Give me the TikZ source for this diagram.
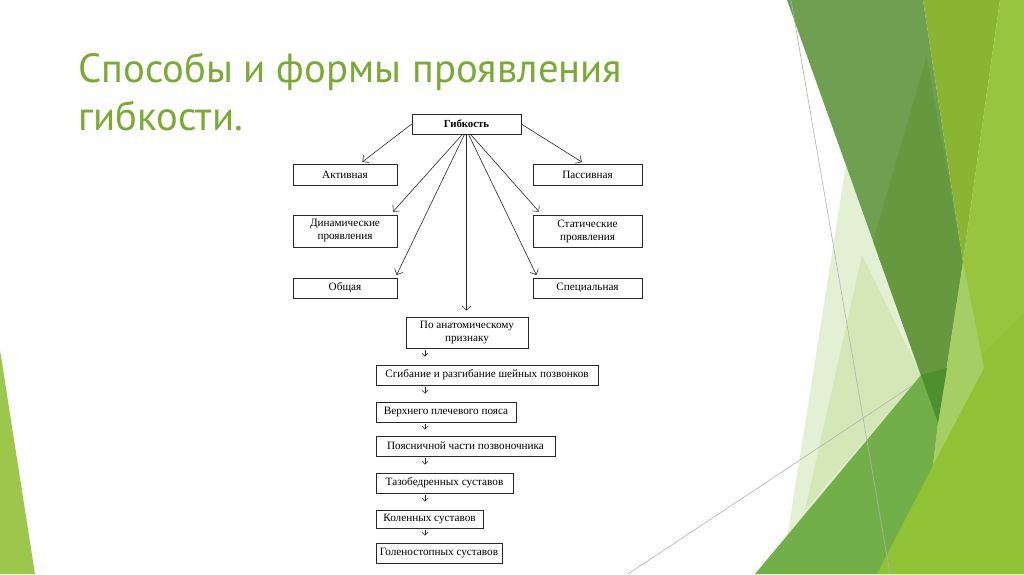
\documentclass[tikz,border=0pt]{standalone}
\usepackage{fontspec}
\setmainfont{Liberation Serif}
\newfontfamily\titlefont{PT Sans}
\usetikzlibrary{arrows.meta,calc}
\definecolor{titlegreen}{RGB}{122,170,50}
\definecolor{paleA}{RGB}{228,240,212}
\definecolor{paleB}{RGB}{212,231,182}
\definecolor{muted}{RGB}{111,159,80}
\definecolor{darker}{RGB}{102,152,63}
\definecolor{olive}{RGB}{137,181,51}
\definecolor{bright}{RGB}{152,197,64}
\definecolor{yellowg}{RGB}{145,193,52}
\definecolor{sliver}{RGB}{165,207,100}
\definecolor{medium}{RGB}{114,175,72}
\definecolor{spike}{RGB}{79,143,45}
\definecolor{leftg}{RGB}{156,198,76}
\definecolor{lineg}{RGB}{40,40,40}
\begin{document}
\begin{tikzpicture}[x=1pt,y=-1pt,
  box/.style={draw=lineg, line width=0.6pt, inner sep=1pt, align=center,
    font=\fontsize{11.2}{13}\selectfont, text=black},
  arr/.style={draw=lineg, line width=0.6pt, -{Straight Barb[length=4.5pt,width=9pt]}},
  chainarr/.style={draw=lineg, line width=0.6pt, shorten <=1.5pt, shorten >=8pt,
    -{Straight Barb[length=3pt,width=6pt]}},
  thinline/.style={draw=black!30, line width=0.6pt}]
\useasboundingbox (0,0) rectangle (1024,574);
\fill[white] (0,0) rectangle (1024,574);
% background facets
\fill[paleA] (846,165) -- (921,375) -- (787.5,535) -- cycle;
\fill[paleB] (862,255) -- (921,375) -- (805,510) -- cycle;
\fill[muted] (787,0) -- (923,0) -- (963,262) -- (938,423) -- cycle;
\fill[darker] (926.7,56.7) -- (963,262) -- (938,423) -- (873,241) -- cycle;
\fill[olive] (923,0) -- (1000,0) -- (963,262) -- cycle;
\fill[bright] (1000,0) -- (1024,0) -- (1024,574) -- (877,574) -- (935,460) -- (963,262) -- cycle;
\fill[yellowg] (1024,313) -- (1024,574) -- (877,574) -- (935,460) -- (947,390) -- cycle;
\fill[sliver] (963,262) -- (984,368) -- (933,465) -- (938,423) -- cycle;
\fill[medium] (755,574) -- (921,375) -- (938,423) -- (933,465) -- (877,574) -- cycle;
\fill[spike] (921,375) -- (947,368) -- (938,423) -- cycle;
\fill[leftg] (0,350) -- (35,574) -- (0,574) -- cycle;
\draw[thinline] (791,0) -- (890,574);
\draw[thinline] (628,574) -- (913,385);
% title
\node[anchor=base west, inner sep=0, text=titlegreen, font=\titlefont\fontsize{40.7}{48}\selectfont] (t1) at (78,82) {Способы и формы проявления};
\node[anchor=base west, inner sep=0, text=titlegreen, font=\titlefont\fontsize{40.7}{48}\selectfont] (t2) at (78,130) {гибкости.};
% diagram boxes
\node[box, minimum width=109pt, minimum height=20pt, font=\bfseries\fontsize{10.8}{12}\selectfont] (gib) at (466.5,124) {Гибкость};
\node[box, minimum width=104pt, minimum height=21pt] (akt) at (345,174.5) {Активная};
\node[box, minimum width=109pt, minimum height=21pt] (pas) at (587.5,174.5) {Пассивная};
\node[box, minimum width=104pt, minimum height=32pt] (din) at (345,231) {Динамические\\проявления};
\node[box, minimum width=109pt, minimum height=32pt] (stat) at (587.5,231) {Статические\\проявления};
\node[box, minimum width=104pt, minimum height=20pt] (obsh) at (345,288) {Общая};
\node[box, minimum width=109pt, minimum height=20pt] (spec) at (587.5,288) {Специальная};
\node[box, minimum width=122pt, minimum height=31pt] (anat) at (467,332.5) {По анатомическому\\признаку};
\node[box, minimum width=222pt, minimum height=20pt] (s1) at (487,375) {Сгибание и разгибание шейных позвонков};
\node[box, minimum width=140pt, minimum height=20pt] (s2) at (446,412) {Верхнего плечевого пояса};
\node[box, minimum width=179pt, minimum height=20pt] (s3) at (465.5,446) {Поясничной части позвоночника};
\node[box, minimum width=137pt, minimum height=20pt] (s4) at (444.5,483) {Тазобедренных суставов};
\node[box, minimum width=107pt, minimum height=18pt] (s5) at (429.5,519) {Коленных суставов};
\node[box, minimum width=126pt, minimum height=20pt] (s6) at (439,553) {Голеностопных суставов};
% connectors from Гибкость
\draw[arr, shorten >=3pt] (gib.west) -- ($(akt.north)+(15,0)$);
\draw[arr, shorten >=3pt] (gib.east) -- ($(pas.north)+(-3,0)$);
\draw[arr, shorten >=4pt] ($(gib.south)+(-4,0)$) -- ($(din.north east)+(-7,0)$);
\draw[arr, shorten >=3pt] ($(gib.south)+(-2,0)$) -- ($(obsh.north east)+(-2,0)$);
\draw[arr, shorten >=6pt] (gib.south) -- (gib.south |- anat.north);
\draw[arr, shorten >=4pt] ($(gib.south)+(4,0)$) -- ($(stat.north west)+(9,0)$);
\draw[arr, shorten >=3pt] ($(gib.south)+(2,0)$) -- ($(spec.north west)+(5,0)$);
% chain
\coordinate (ax) at (425,0);
\draw[chainarr] (anat.south -| ax) -- (s1.north -| ax);
\draw[chainarr] (s1.south -| ax) -- (s2.north -| ax);
\draw[chainarr, shorten >=6pt] (s2.south -| ax) -- (s3.north -| ax);
\draw[chainarr] (s3.south -| ax) -- (s4.north -| ax);
\draw[chainarr] (s4.south -| ax) -- (s5.north -| ax);
\draw[chainarr, shorten >=7pt] (s5.south -| ax) -- (s6.north -| ax);
\end{tikzpicture}
\end{document}
